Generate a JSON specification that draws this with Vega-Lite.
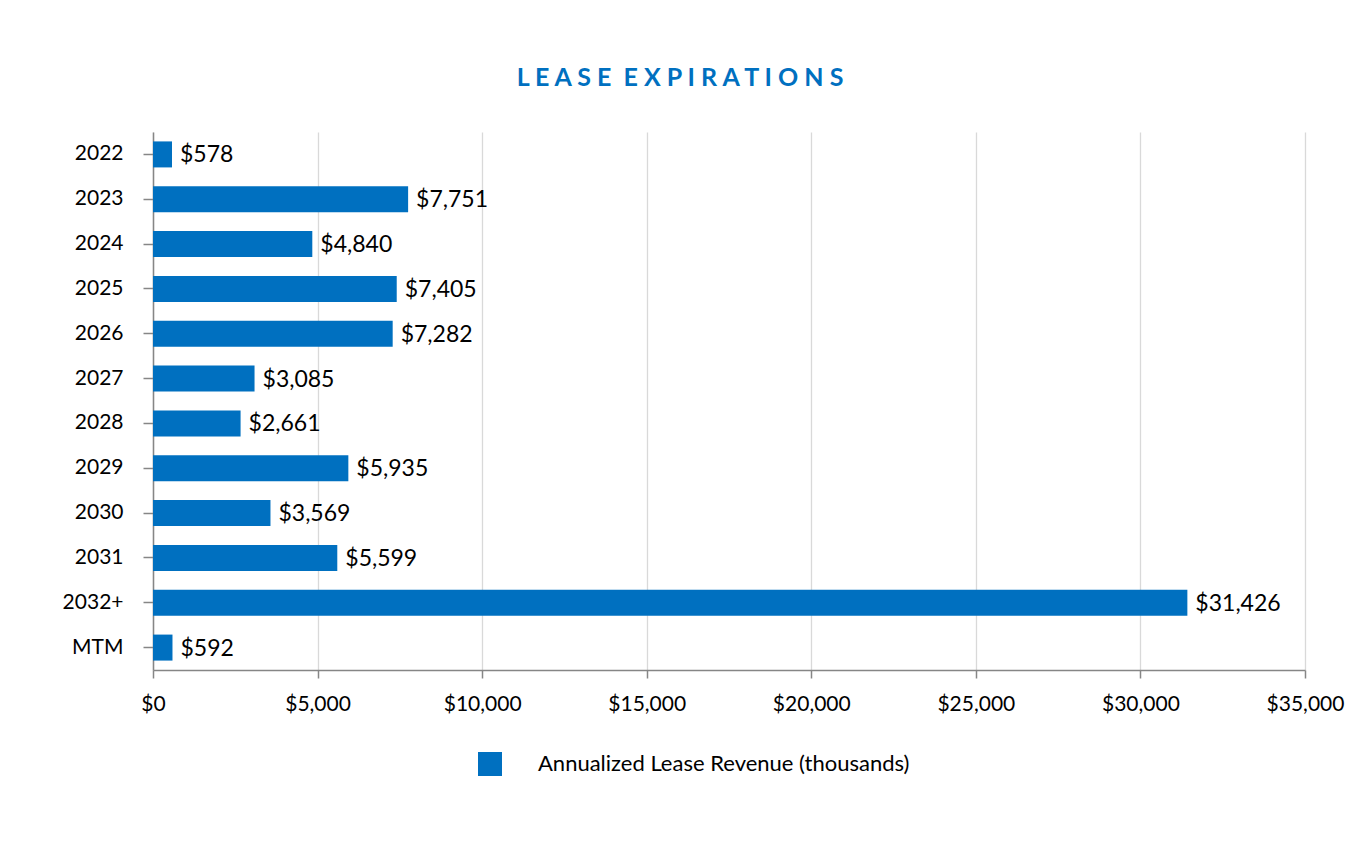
{
  "$schema": "https://vega.github.io/schema/vega-lite/v6.json",
  "width": 1152,
  "height": 538,
  "autosize": {"type": "none"},
  "padding": {"left": 153, "top": 132, "right": 63, "bottom": 182},
  "background": "white",
  "title": {
    "text": "L E A S E \u00a0E X P I R A T I O N S",
    "font": "Lato",
    "fontSize": 25,
    "fontWeight": "bold",
    "color": "#0070C0",
    "anchor": "middle",
    "frame": "group",
    "baseline": "alphabetic",
    "offset": 21,
    "dx": -49
  },
  "data": {
    "values": [
      {"year": "2022", "revenue": 578},
      {"year": "2023", "revenue": 7751},
      {"year": "2024", "revenue": 4840},
      {"year": "2025", "revenue": 7405},
      {"year": "2026", "revenue": 7282},
      {"year": "2027", "revenue": 3085},
      {"year": "2028", "revenue": 2661},
      {"year": "2029", "revenue": 5935},
      {"year": "2030", "revenue": 3569},
      {"year": "2031", "revenue": 5599},
      {"year": "2032+", "revenue": 31426},
      {"year": "MTM", "revenue": 592}
    ]
  },
  "config": {
    "view": {"stroke": null},
    "font": "Lato",
    "axis": {
      "domainColor": "#868686",
      "domainWidth": 1.5,
      "tickColor": "#868686",
      "tickWidth": 1.5,
      "gridColor": "#d9d9d9",
      "gridWidth": 1.3,
      "labelFont": "Lato",
      "labelFontSize": 21,
      "labelColor": "#000000",
      "title": null
    }
  },
  "encoding": {
    "y": {
      "field": "year",
      "type": "nominal",
      "sort": null,
      "scale": {"paddingInner": 0.42, "paddingOuter": 0.21},
      "axis": {"tickSize": 10, "labelPadding": 20, "labelFontSize": 21, "grid": false, "title": null}
    },
    "x": {
      "field": "revenue",
      "type": "quantitative",
      "scale": {"domain": [0, 35000], "nice": false},
      "axis": {
        "values": [0, 5000, 10000, 15000, 20000, 25000, 30000, 35000],
        "format": "$,.0f",
        "tickSize": 8,
        "labelPadding": 15,
        "labelFlush": false,
        "labelOverlap": false,
        "grid": true,
        "title": null
      }
    }
  },
  "layer": [
    {
      "mark": {"type": "bar", "color": "#0070C0"},
      "encoding": {
        "color": {
          "datum": "Annualized Lease Revenue (thousands)",
          "scale": {"range": ["#0070C0"]},
          "legend": {
            "title": null,
            "orient": "none",
            "legendX": 325,
            "legendY": 620,
            "symbolType": "square",
            "symbolSize": 576,
            "symbolStrokeWidth": 0,
            "labelFont": "Lato",
            "labelFontSize": 22,
            "labelColor": "#000000",
            "labelOffset": 36,
            "labelLimit": 600,
            "padding": 0
          }
        }
      }
    },
    {
      "mark": {"type": "text", "align": "left", "baseline": "middle", "dx": 8, "dy": 1, "fontSize": 23, "font": "Lato", "color": "#000000"},
      "encoding": {
        "text": {"field": "revenue", "type": "quantitative", "format": "$,.0f"}
      }
    }
  ]
}
